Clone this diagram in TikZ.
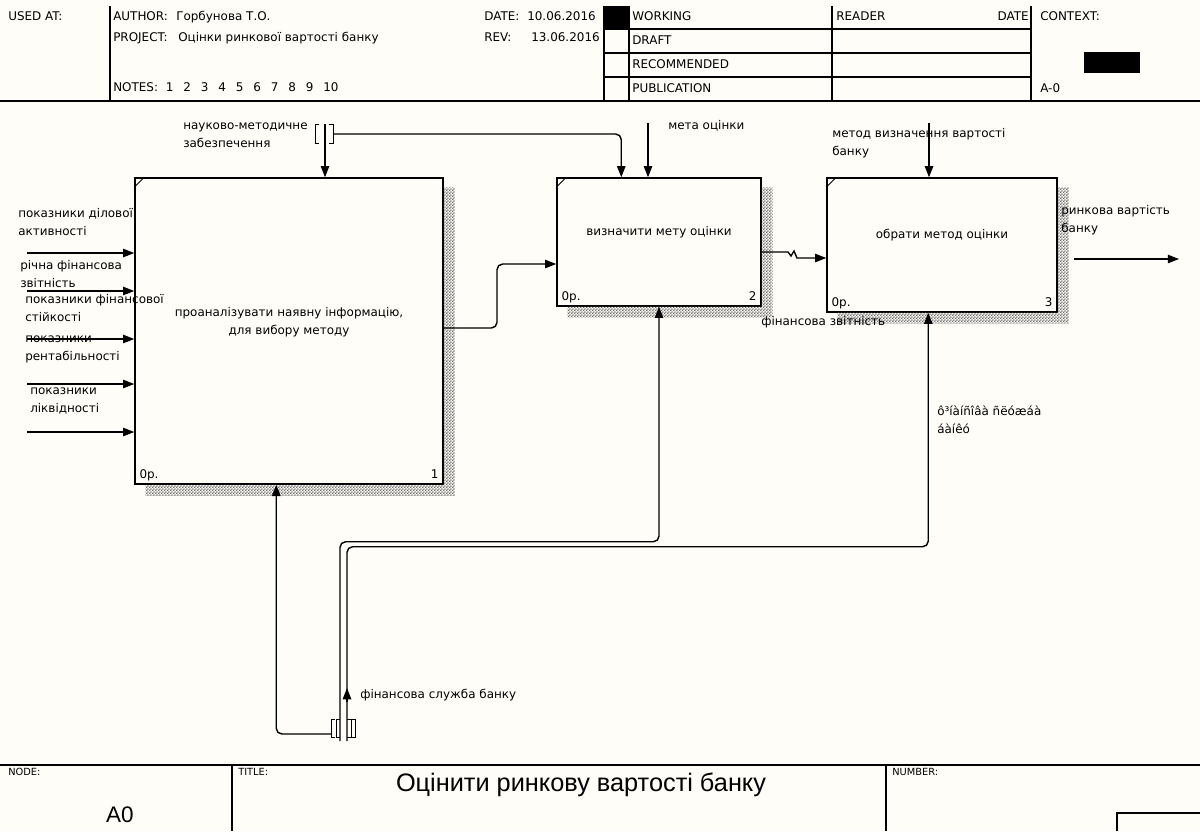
\documentclass[tikz,border=0pt]{standalone}
\usepackage{fontspec}
\setmainfont{DejaVu Sans}
\newfontfamily\titlefont{Liberation Sans}
\usetikzlibrary{arrows.meta,calc,positioning,patterns}
\definecolor{pagebg}{RGB}{255,253,248}
\definecolor{hatchgray}{RGB}{110,110,110}
\pgfdeclarepatternformonly{idefhatch}{\pgfpointorigin}{\pgfpoint{2pt}{2pt}}{\pgfpoint{2pt}{2pt}}{%
  \pgfpathrectangle{\pgfpointorigin}{\pgfpoint{1pt}{1pt}}%
  \pgfpathrectangle{\pgfpoint{1pt}{1pt}}{\pgfpoint{1pt}{1pt}}%
  \pgfusepath{fill}}
\tikzset{
  every node/.style={font=\fontsize{8.5}{12.8}\selectfont,inner sep=0pt},
  actbox/.style={draw,line width=1pt,fill=pagebg},
  flow/.style={line width=1pt,-{Triangle[length=8pt,width=6pt]},rounded corners=4pt},
  lbl/.style={anchor=north west,align=left,execute at begin node=\strut},
  hdr/.style={line width=0.8pt},
  tag/.style={font=\fontsize{7}{8}\selectfont,anchor=north west}
}

\begin{document}
\begin{tikzpicture}[x=0.025cm,y=-0.025cm]
    \useasboundingbox (0,0) rectangle (1200,831);
    \fill[pagebg] (0,0) rectangle (1200,831);

    % header frame
    \foreach \hx in {110,604,629,832,1031} \draw[hdr] (\hx,6) -- (\hx,101);
    \foreach \hy in {29,53,77} \draw[hdr] (604,\hy) -- (1031,\hy);
    \draw[line width=1.5pt] (0,101) -- (1200,101);
    \fill (605,6) rectangle (629,29);
    \fill (1084,52) rectangle (1140,73);
    \node[lbl] at (8,8) {USED AT:};
    \node[lbl] at (113,8) {AUTHOR:};
    \node[lbl] at (176,8) {Горбунова Т.О.};
    \node[lbl] at (113,29) {PROJECT:};
    \node[lbl] at (178,29) {Оцінки ринкової вартості банку};
    \node[lbl] at (113,79) {NOTES:};
    \foreach \n [count=\i] in {1,...,10} \node[lbl] at (148+17.5*\i,79) {\n};
    \node[lbl] at (484,8) {DATE:};
    \node[lbl] at (527,8) {10.06.2016};
    \node[lbl] at (484,29) {REV:};
    \node[lbl] at (531,29) {13.06.2016};
    \node[lbl] at (632,8) {WORKING};
    \node[lbl] at (632,32) {DRAFT};
    \node[lbl] at (632,56) {RECOMMENDED};
    \node[lbl] at (632,80) {PUBLICATION};
    \node[lbl] at (836,8) {READER};
    \node[lbl,anchor=north east] at (1029,8) {DATE};
    \node[lbl] at (1040,8) {CONTEXT:};
    \node[lbl] at (1040,80) {A-0};

    % footer frame
    \draw[line width=1.5pt] (0,765) -- (1200,765);
    \draw[hdr] (232,765) -- (232,831);
    \draw[hdr] (886,765) -- (886,831);
    \draw[line width=1.2pt] (1117,831) -- (1117,813) -- (1200,813);
    \node[tag] at (8,768) {NODE:};
    \node[tag] at (238,768) {TITLE:};
    \node[tag] at (892,768) {NUMBER:};
    \node[font=\titlefont\fontsize{16}{18}\selectfont] at (120,815) {A0};
    \node[font=\titlefont\fontsize{18}{20}\selectfont] at (581,785) {Оцінити ринкову вартості банку};

    % activity boxes
    \node[actbox,minimum width=7.7cm,minimum height=7.65cm] (b1) at (289,331) {};
    \node[actbox,minimum width=5.1cm,minimum height=3.2cm] (b2) at (659,242) {};
    \node[actbox,minimum width=5.75cm,minimum height=3.35cm] (b3) at (942,245) {};
    \foreach \b/\n in {b1/1,b2/2,b3/3} {
      \fill[pattern=idefhatch,pattern color=hatchgray]
        ($(\b.north east)+(0,10)$) -- ($(\b.north east)+(11,10)$) -- ($(\b.south east)+(11,11)$)
        -- ($(\b.south west)+(11,11)$) -- ($(\b.south west)+(11,0)$) -- (\b.south east) -- cycle;
      \draw[line width=0.6pt] ($(\b.north west)+(0,10)$) -- ($(\b.north west)+(10,0)$);
      \node[anchor=base west] at ($(\b.south west)+(5,-6)$) {0р.};
      \node[anchor=base east] at ($(\b.south east)+(-5,-6)$) {\n};
    }
    \node[align=center] at ($(b1.center)+(0,-9)$) {проаналізувати наявну інформацію,\\для вибору методу};
    \node at ($(b2.center)+(0,-10)$) {визначити мету оцінки};
    \node at ($(b3.center)+(0,-10)$) {обрати метод оцінки};

    % inputs
    \foreach \y [count=\i] in {253,291,339,384,432} {
      \coordinate (in\i) at (27,\y);
      \draw[flow] (in\i) -- (in\i -| b1.west);
    }
    \node[lbl] at (18,208) {показники ділової\\активності};
    \node[lbl] at (20,260) {річна фінансова\\звітність};
    \node[lbl] at (25,294) {показники фінансової\\стійкості};
    \node[lbl] at (25,336) {показники\\рентабільності};
    \node[lbl] at (30,388) {показники\\ліквідності};

    % controls
    \coordinate (tc1) at (325,124);
    \coordinate (tc2) at (333,134);
    \draw[flow] (tc1) -- (tc1 |- b1.north);
    \draw[flow] (tc2) -| ($(b2.north west)+(65,0)$);
    \foreach \bx/\d in {315/4,333/-4} \draw[line width=0.7pt] (\bx+\d,124) -- (\bx,124) -- (\bx,143) -- (\bx+\d,143);
    \node[lbl] at (183,123) {науково-методичне\\забезпечення};
    \coordinate (g2) at (648,123);
    \draw[flow] (g2) -- (g2 |- b2.north);
    \node[lbl] at (668,117) {мета оцінки};
    \coordinate (g3) at (929,123);
    \draw[flow] (g3) -- (g3 |- b3.north);
    \node[lbl] at (832,128) {метод визначення вартості\\банку};

    % box to box
    \draw[flow] (b1.east |- 0,328) -- (497,328) -- (497,264) -- (b2.west |- 0,264);
    \draw[flow,sharp corners] (b2.east |- 0,252) -- (788,252) -- (791,256) -- (794,251) -- (797,258) -- (b3.west |- 0,258);
    \node[lbl] at (761,313) {фінансова звітність};

    % output
    \coordinate (outs) at (1074,259);
    \coordinate (oute) at (1179,259);
    \draw[flow] (outs) -- (oute);
    \node[lbl] at (1061,205) {ринкова вартість\\банку};

    % mechanisms
    \coordinate (tb1) at (332,734);
    \coordinate (tb2) at (340,741);
    \coordinate (tb3) at (347,741);
    \draw[flow] (tb1) -| ($(b1.south west)+(142,0)$);
    \draw[flow] (tb2) |- ($(b2.south)+(0,235)$) -- (b2.south);
    \draw[flow] (tb3) |- ($(b3.south west)+(102,234)$) -- ($(b3.south west)+(102,0)$);
    \draw[line width=1pt,-{Triangle[length=8pt,width=6pt]}] (347,702) -- (347,688);
    \foreach \bx/\d in {331/4,336/4,351/-4,355/-4} \draw[line width=0.7pt] (\bx+\d,719) -- (\bx,719) -- (\bx,737) -- (\bx+\d,737);
    \node[lbl] at (360,686) {фінансова служба банку};
    \node[lbl] at (937,406) {ô³íàíñîâà ñëóæáà\\áàíêó};
\end{tikzpicture}
\end{document}
